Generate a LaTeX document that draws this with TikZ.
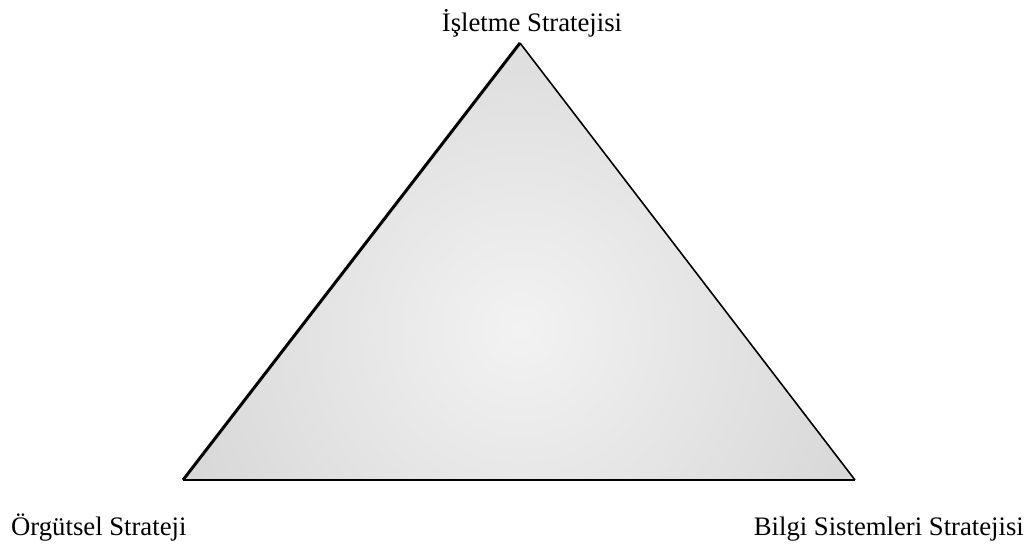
\documentclass[tikz,border=0pt]{standalone}
\usepackage{fontspec}
\setmainfont{Liberation Serif}
\begin{document}
\begin{tikzpicture}[x=1pt,y=-1pt,
  lbl/.style={font=\fontsize{26.7}{30}\selectfont, inner sep=0pt, anchor=base},
  edge/.style={draw=black, line width=1.5pt, line join=miter}]
\useasboundingbox (0,0) rectangle (1033,545);
\coordinate (A) at (520,43);
\coordinate (B) at (183,480);
\coordinate (C) at (855,480);
\begin{scope}
  \clip (A) -- (B) -- (C) -- cycle;
  \shade[inner color=black!5, outer color=black!20] (520,330) circle (520);
\end{scope}
\draw[line width=1.6pt] (C) -- (A);
\draw[line width=3pt] (A) -- (B);
\draw[line width=2pt] (B) -- (C);
\node[lbl] (top) at (532,32) {İşletme Stratejisi};
\node[lbl, anchor=base west] (left) at (11,535) {Örgütsel Strateji};
\node[lbl, anchor=base east] (right) at (1024,535) {Bilgi Sistemleri Stratejisi};
\end{tikzpicture}
\end{document}
